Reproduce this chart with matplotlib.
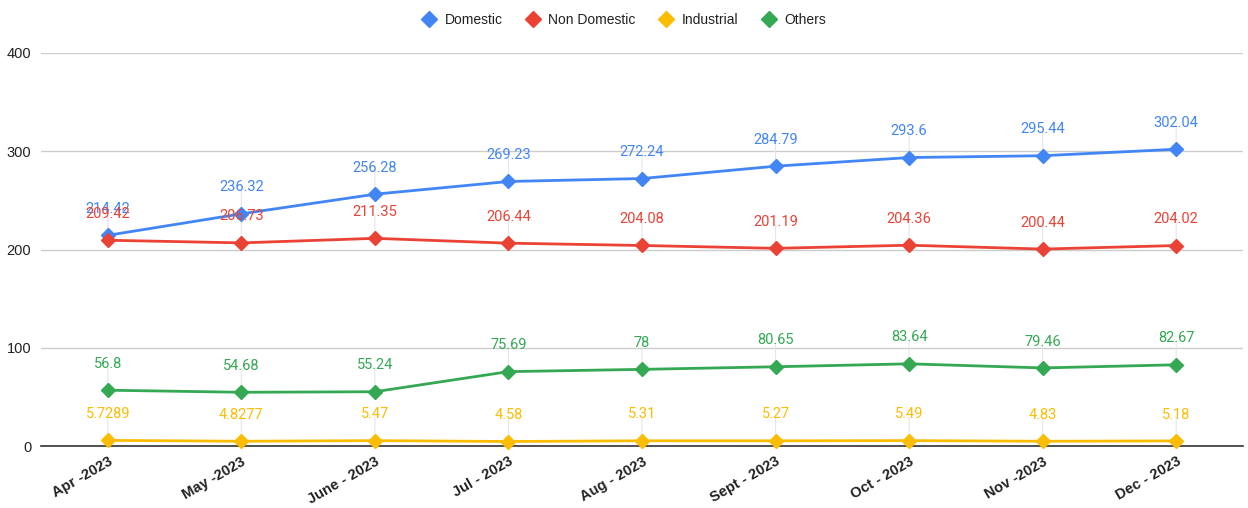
import matplotlib.pyplot as plt

months = ['Apr -2023', 'May -2023', 'June - 2023', 'Jul - 2023', 'Aug - 2023',
          'Sept - 2023', 'Oct - 2023', 'Nov -2023', 'Dec - 2023']
domestic = [214.42, 236.32, 256.28, 269.23, 272.24, 284.79, 293.6, 295.44, 302.04]
non_domestic = [209.42, 206.73, 211.35, 206.44, 204.08, 201.19, 204.36, 200.44, 204.02]
industrial = [5.7289, 4.8277, 5.47, 4.58, 5.31, 5.27, 5.49, 4.83, 5.18]
others = [56.8, 54.68, 55.24, 75.69, 78, 80.65, 83.64, 79.46, 82.67]

series = [
    ('Domestic', domestic, '#4285F4'),
    ('Non Domestic', non_domestic, '#EA4335'),
    ('Industrial', industrial, '#FBBC04'),
    ('Others', others, '#34A853'),
]

plt.rcParams['font.family'] = ['Liberation Sans', 'DejaVu Sans']

fig = plt.figure(figsize=(12.48, 5.08), dpi=100)
ax = fig.add_axes([41 / 1248, 1 - 446 / 508, 1202 / 1248, 393 / 508])

x = list(range(len(months)))
for name, vals, color in series:
    ax.plot(x, vals, color=color, lw=2, marker='D', markersize=7.5,
            label=name, zorder=3, clip_on=False)
    for xi, v in zip(x, vals):
        # leader line up to the label
        ax.annotate('', xy=(xi, v), xytext=(0, 17), textcoords='offset points',
                    arrowprops=dict(arrowstyle='-', color='#e6e6e6', lw=0.8,
                                    shrinkA=0, shrinkB=0), zorder=1)
        ax.annotate(f'{v:g}', xy=(xi, v), xytext=(0, 19), textcoords='offset points',
                    ha='center', va='center', color=color, fontsize=10.5,
                    family=['Roboto', 'DejaVu Sans'], zorder=4)

ax.set_xlim(-0.5, len(months) - 0.5)
ax.set_ylim(0, 400)
ax.set_yticks([0, 100, 200, 300, 400])
ax.grid(axis='y', color='#cccccc', lw=1)
ax.set_axisbelow(True)
for s in ['top', 'right', 'left']:
    ax.spines[s].set_visible(False)
ax.spines['bottom'].set_color('#333333')
ax.spines['bottom'].set_linewidth(1.2)
ax.tick_params(axis='y', length=0, labelsize=10.5, colors='#222222', pad=7)
ax.tick_params(axis='x', length=0, pad=6)
ax.set_xticks(x)
ax.set_xticklabels(months, rotation=30, ha='right', rotation_mode='anchor',
                   fontsize=10.5, fontweight='bold', color='#222222')

leg = fig.legend(loc='upper center', bbox_to_anchor=(0.5, 1.0), ncol=4, frameon=False,
                 fontsize=10, handlelength=1.0, columnspacing=1.7, handletextpad=0.6)
for h in leg.legend_handles:
    h.set_linestyle('none')
    h.set_markersize(8)
for t in leg.get_texts():
    t.set_color('#222222')

fig.savefig('out.png', dpi=100, facecolor='white')
